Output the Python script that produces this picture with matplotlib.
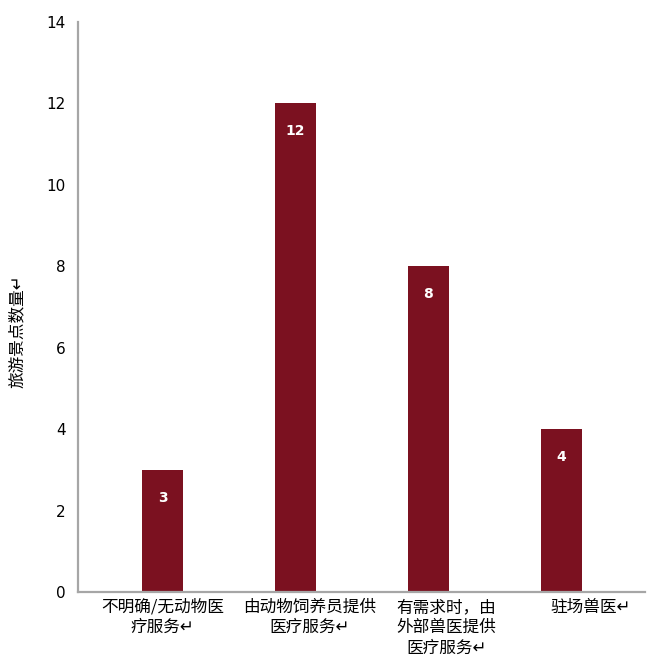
import matplotlib.pyplot as plt
from matplotlib.transforms import offset_copy

plt.rcParams['font.family'] = ['Noto Sans CJK SC', 'DejaVu Sans']

categories = ["不明确/无动物医\n疗服务↵", "由动物饲养员提供\n医疗服务↵",
              "有需求时，由\n外部兽医提供\n医疗服务↵", "驻场兽医↵"]
counts = [3, 12, 8, 4]
y_ticks = [0, 2, 4, 6, 8, 10, 12, 14]
y_label = "旅游景点数量↵"

bar_color = '#7B1120'
spine_color = '#A6A6A6'

fig = plt.figure(figsize=(6.56, 6.62), dpi=100)
ax = fig.add_axes([0.119, 0.1057, 0.864, 0.8615])

x = list(range(len(categories)))
bars = ax.bar(x, counts, width=0.31, color=bar_color)

# valores dentro de las barras
for xi, v in zip(x, counts):
    ax.text(xi, v - 0.68, str(v), ha='center', va='center',
            color='white', fontsize=10, fontweight='bold', family='DejaVu Sans')

ax.set_xlim(-0.635, 3.63)
ax.set_ylim(0, 14)
ax.set_yticks(y_ticks)
ax.set_yticklabels([str(t) for t in y_ticks], fontsize=11, family='DejaVu Sans')
ax.tick_params(axis='y', length=0, pad=9)
ax.set_xticks([])

# etiquetas de categoria, desplazadas como en el original
desplazamientos = [0, 10, 13, 21]
for xi, lab, dx in zip(x, categories, desplazamientos):
    tr = offset_copy(ax.get_xaxis_transform(), fig=fig, x=dx, y=-5, units='points')
    ax.text(xi, 0, lab, transform=tr, ha='center', va='top',
            fontsize=12, linespacing=1.25, multialignment='center')

ax.set_ylabel(y_label, fontsize=12)
ax.yaxis.set_label_coords(-0.093, 0.458)

for s in ['top', 'right']:
    ax.spines[s].set_visible(False)
for s in ['left', 'bottom']:
    ax.spines[s].set_color(spine_color)
    ax.spines[s].set_linewidth(1.6)

fig.savefig('out.png', dpi=100)
